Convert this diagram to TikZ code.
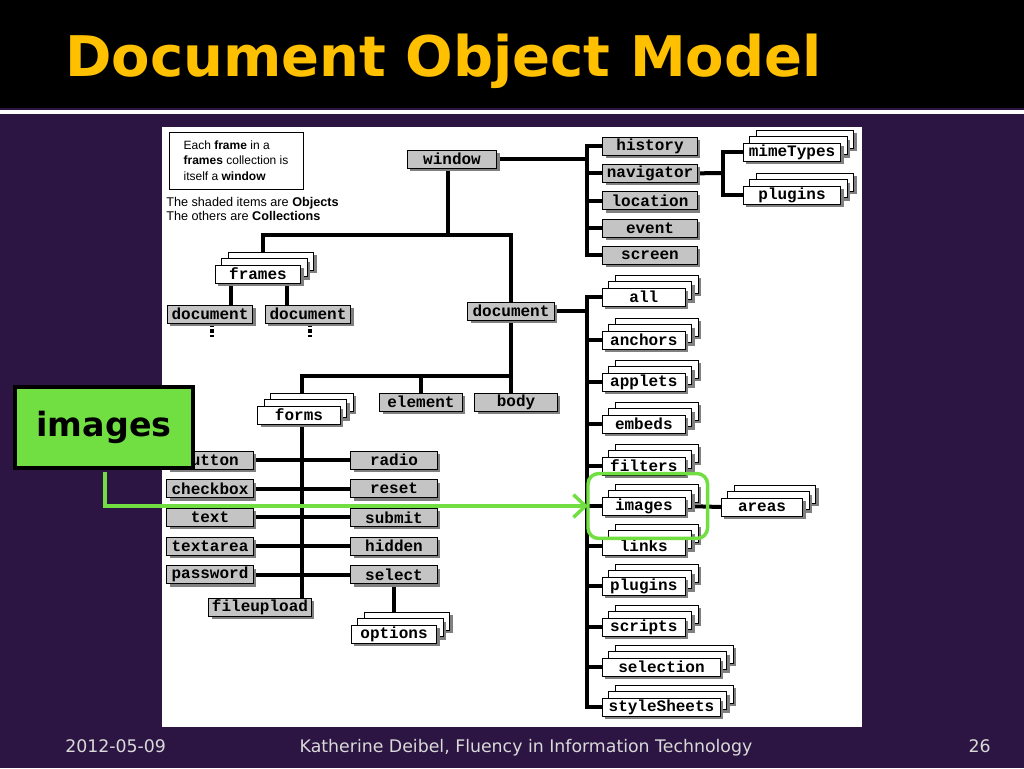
\documentclass[tikz,border=0pt]{standalone}
\usepackage{fontspec}
\usepackage{xcolor}
\usepackage{tikz}
\usetikzlibrary{shapes,arrows.meta,shadows}
\setmainfont{DejaVu Sans}
\newfontfamily\dommono{Liberation Mono}
\newfontfamily\domsans{Liberation Sans}
\newcommand{\boxfont}{\dommono\bfseries\fontsize{12}{12}\selectfont}
\newcommand{\notefont}{\domsans\fontsize{9}{11.6}\selectfont}
\definecolor{slidebg}{RGB}{44,21,66}
\definecolor{titlegold}{RGB}{255,192,0}
\definecolor{markgreen}{RGB}{113,222,66}
\definecolor{objgray}{RGB}{196,196,196}
\definecolor{shadegray}{RGB}{128,128,128}
\pgfdeclarelayer{slide}
\pgfdeclarelayer{wires}
\pgfsetlayers{slide,wires,main}
\tikzstyle{box} = [rectangle, draw, line width=0.7pt, font=\boxfont,
    minimum height=13.5pt, inner sep=0pt]
\tikzstyle{obj} = [box, fill=objgray,
    general shadow={shadow xshift=2.25pt, shadow yshift=-2.25pt, fill=shadegray}]
\tikzstyle{coll} = [box, fill=white,
    general shadow={shadow xshift=12pt, shadow yshift=7.5pt, fill=shadegray},
    general shadow={shadow xshift=9.75pt, shadow yshift=9.75pt, fill=white, draw=black, line width=0.7pt},
    general shadow={shadow xshift=7.1pt, shadow yshift=2.6pt, fill=shadegray},
    general shadow={shadow xshift=4.85pt, shadow yshift=4.85pt, fill=white, draw=black, line width=0.7pt},
    general shadow={shadow xshift=2.25pt, shadow yshift=-2.25pt, fill=shadegray}]
\tikzstyle{link} = [draw, line width=3pt]
\tikzstyle{marker} = [draw=markgreen, line width=2.6pt]
\tikzstyle{footer} = [text=white!85!black, font=\fontsize{13}{13}\selectfont, inner sep=0pt]

\begin{document}
\begin{tikzpicture}[x=0.75pt, y=-0.75pt, node distance=20.5pt]
  \useasboundingbox (0,0) rectangle (1024,768);
  \begin{pgfonlayer}{slide}
    \fill[slidebg] (0,0) rectangle (1024,768);
    \fill[black] (0,0) rectangle (1024,108);
    \fill[white] (0,110) rectangle (1024,114);
    \fill[white] (162,127) rectangle (862,727);
  \end{pgfonlayer}

  % Title and footer
  \node [anchor=base west, text=titlegold, inner sep=0pt, font=\bfseries\fontsize{42}{42}\selectfont] (title) at (65,76) {Document Object Model};
  \node [footer, anchor=base west] (date) at (65,752) {2012-05-09};
  \node [footer, anchor=base] (credit) at (526,752) {Katherine Deibel, Fluency in Information Technology};
  \node [footer, anchor=base east] (page) at (991,752) {26};

  % Legend
  \node [draw, line width=0.7pt, minimum width=100.5pt, minimum height=42.75pt, align=left, font=\notefont] (note) at (236,160.5) {Each \textbf{frame} in a\\\textbf{frames} collection is\\itself a \textbf{window}};
  \node [anchor=north west, align=left, inner sep=0pt, font=\domsans\fontsize{9.5}{10.2}\selectfont] (key) at (166,197) {The shaded items are \textbf{Objects}\\The others are \textbf{Collections}};

  % window and its children
  \node [obj, minimum width=67pt] (window) at (452,159) {window};
  \node [obj, minimum width=71pt] (history) at (650,146) {history};
  \node [obj, minimum width=71pt, below of=history] (navigator) {navigator};
  \node [obj, minimum width=71pt, below of=navigator] (location) {location};
  \node [obj, minimum width=71pt, below of=location] (event) {event};
  \node [obj, minimum width=71pt, below of=event] (screen) {screen};
  \node [coll, minimum width=73pt] (mimeTypes) at (792,152) {mimeTypes};
  \node [coll, minimum width=73pt] (navPlugins) at (792,195) {plugins};

  \node [coll, minimum width=64pt] (frames) at (258,274) {frames};
  \node [obj, minimum width=64pt] (frameDocA) at (210,314) {document};
  \node [obj, minimum width=64pt] (frameDocB) at (308,314) {document};
  \node [obj, minimum width=65pt] (document) at (511,311) {document};

  % document and its children
  \node [obj, minimum width=62pt] (element) at (421,402) {element};
  \node [obj, minimum width=62pt] (body) at (516,402) {body};
  \node [coll, minimum width=62pt] (forms) at (299,415) {forms};

  \node [obj, minimum width=65pt] (button) at (210,460) {button};
  \node [obj, minimum width=65pt, below of=button, node distance=21.5pt] (checkbox) {checkbox};
  \node [obj, minimum width=65pt, below of=checkbox, node distance=21.5pt] (text) {text};
  \node [obj, minimum width=65pt, below of=text, node distance=21.5pt] (textarea) {textarea};
  \node [obj, minimum width=65pt, below of=textarea, node distance=21.5pt] (password) {password};
  \node [obj, minimum width=65pt] (radio) at (394,460) {radio};
  \node [obj, minimum width=65pt, below of=radio, node distance=21.5pt] (reset) {reset};
  \node [obj, minimum width=65pt, below of=reset, node distance=21.5pt] (submit) {submit};
  \node [obj, minimum width=65pt, below of=submit, node distance=21.5pt] (hidden) {hidden};
  \node [obj, minimum width=65pt, below of=hidden, node distance=21.5pt] (select) {select};
  \node [obj, minimum width=77pt] (fileupload) at (260,607) {fileupload};
  \node [coll, minimum width=64pt] (options) at (394,634) {options};

  \node [coll, anchor=west, minimum width=62pt] (all) at (602,297) {all};
  \node [coll, anchor=west, minimum width=62pt] (anchors) at (602,340) {anchors};
  \node [coll, anchor=west, minimum width=62pt] (applets) at (602,382) {applets};
  \node [coll, anchor=west, minimum width=62pt] (embeds) at (602,424) {embeds};
  \node [coll, anchor=west, minimum width=62pt] (filters) at (602,466) {filters};
  \node [coll, anchor=west, minimum width=62pt] (images) at (602,506) {images};
  \node [coll, anchor=west, minimum width=62pt] (links) at (602,546) {links};
  \node [coll, anchor=west, minimum width=62pt] (plugins) at (602,586) {plugins};
  \node [coll, anchor=west, minimum width=62pt] (scripts) at (602,627) {scripts};
  \node [coll, anchor=west, minimum width=88.5pt] (selection) at (602,667) {selection};
  \node [coll, anchor=west, minimum width=88.5pt] (styleSheets) at (602,707) {styleSheets};
  \node [coll, minimum width=61pt] (areas) at (762,507) {areas};

  % connectors
  \begin{pgfonlayer}{wires}
    \coordinate (winBus) at (587,159);
    \coordinate (navBus) at (723,173);
    \coordinate (winSplit) at (448,235);
    \coordinate (docBus) at (587,311);
    \coordinate (docSplit) at (511,376);

    \path [link] (window.east) -- (winBus);
    \path [link] (history.west) -| (winBus) |- (screen.west);
    \path [link] (winBus |- navigator) -- (navigator.west);
    \path [link] (winBus |- location) -- (location.west);
    \path [link] (winBus |- event) -- (event.west);
    \path [link] (navigator.east) -- (navBus);
    \path [link] (mimeTypes.west) -| (navBus) |- (navPlugins.west);

    \path [link] (window.south -| winSplit) -- (winSplit);
    \path [link] ([xshift=3.75pt]frames.north) |- (winSplit) -| (document.north);
    \path [link] ([xshift=-20pt]frames.south) -- ([xshift=-20pt]frames.south |- frameDocA.north);
    \path [link] ([xshift=21.75pt]frames.south) -- ([xshift=21.75pt]frames.south |- frameDocB.north);
    \path [link, dash pattern=on 3pt off 1.5pt] ([xshift=1.5pt]frameDocA.south) -- ++(0,14);
    \path [link, dash pattern=on 3pt off 1.5pt] ([xshift=1.5pt]frameDocB.south) -- ++(0,14);

    \path [link] (document.east) -- (docBus);
    \path [link] (all.west) -| (docBus) |- (styleSheets.west);
    \path [link] (docBus |- anchors.west) -- (anchors.west);
    \path [link] (docBus |- applets.west) -- (applets.west);
    \path [link] (docBus |- embeds.west) -- (embeds.west);
    \path [link] (docBus |- filters.west) -- (filters.west);
    \path [link] (docBus |- images.west) -- (images.west);
    \path [link] (docBus |- links.west) -- (links.west);
    \path [link] (docBus |- plugins.west) -- (plugins.west);
    \path [link] (docBus |- scripts.west) -- (scripts.west);
    \path [link] (docBus |- selection.west) -- (selection.west);
    \path [link] (images.east) -- (areas.west);

    \path [link] (document.south) -- (document.south |- body.north);
    \path [link] ([xshift=2.25pt]forms.north) |- (docSplit);
    \path [link] (element.north) -- (element.north |- docSplit);
    \path [link] ([xshift=2.25pt]forms.south) -- ([xshift=2.25pt]forms.south |- fileupload.north);
    \path [link] (button.east) -- (radio.west);
    \path [link] (checkbox.east) -- (reset.west);
    \path [link] (text.east) -- (submit.west);
    \path [link] (textarea.east) -- (hidden.west);
    \path [link] (password.east) -- (select.west);
    \path [link] (select.south) -- (options.north);
  \end{pgfonlayer}

  % highlight for images
  \node [draw=black, line width=3pt, fill=markgreen, minimum width=133.5pt, minimum height=60.75pt, font=\bfseries\fontsize{25}{25}\selectfont] (callout) at (104,427.5) {images};
  \path [marker, -{Straight Barb[length=9pt, width=17pt]}] ([xshift=0.75pt, yshift=-1.5pt]callout.south) |- ([xshift=-10.5pt]images.west);
  \path [marker, rounded corners=8pt] ([shift={(-10.5pt,-17.25pt)}]images.south west) rectangle ([shift={(16.5pt,17.25pt)}]images.north east);
\end{tikzpicture}
\end{document}
